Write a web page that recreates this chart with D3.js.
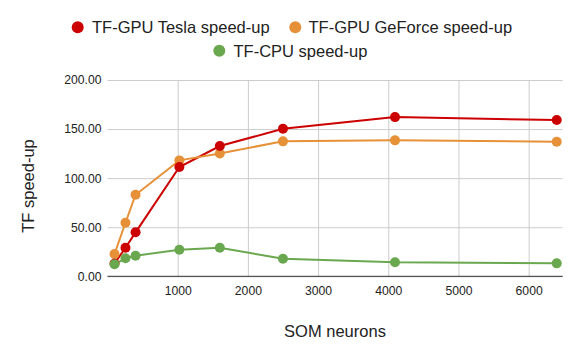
<!DOCTYPE html>
<html><head><meta charset="utf-8">
<script src="https://cdn.jsdelivr.net/npm/d3@7"></script>
<style>body{margin:0;background:#fff}svg{display:block;font-family:"Liberation Sans",Arial,sans-serif}</style>
</head><body><svg id="c" width="581" height="359"></svg>
<script>
const neurons = [100, 256, 400, 1024, 1600, 2500, 4096, 6400];
const teslaSpeedup = [13, 29.1, 44.8, 111.3, 132.7, 150.3, 162.2, 159.2];
const geforceSpeedup = [22.7, 54.6, 83.1, 118.1, 125.2, 137.5, 138.5, 137.1];
const cpuSpeedup = [12.2, 18.3, 21.0, 27.1, 29.1, 17.9, 14.3, 13.2];
const xTicks = [1000, 2000, 3000, 4000, 5000, 6000];
const yTicks = [0, 50, 100, 150, 200];
const seriesNames = ["TF-GPU Tesla speed-up", "TF-GPU GeForce speed-up", "TF-CPU speed-up"];
const colors = ["#cc0000", "#e69138", "#6aa84f"];

const svg = d3.select("#c");
const ff = "'Liberation Sans', Arial, sans-serif";
const x = d3.scaleLinear().domain([0, 6485]).range([107.5, 562.7]);
const y = d3.scaleLinear().domain([0, 200]).range([276.3, 80]);

const yAxis = d3.axisLeft(y).tickValues(yTicks).tickSize(-(x.range()[1]-x.range()[0])).tickPadding(6).tickFormat(d3.format(".2f"));
const gy = svg.append("g").attr("transform", `translate(${x.range()[0]},0)`).call(yAxis);
gy.select(".domain").remove();
gy.selectAll(".tick line").attr("stroke", "#cccccc");
gy.selectAll(".tick text").attr("font-size", 12.2).attr("fill", "#222").attr("font-family", ff);

const xAxis = d3.axisBottom(x).tickValues(xTicks).tickSize(-(y.range()[0]-y.range()[1])).tickPadding(10).tickFormat(d3.format("d"));
const gx = svg.append("g").attr("transform", `translate(0,${y.range()[0]})`).call(xAxis);
gx.select(".domain").remove();
gx.selectAll(".tick line").attr("stroke", "#cccccc");
gx.selectAll(".tick text").attr("font-size", 12.2).attr("fill", "#222").attr("font-family", ff);

svg.append("line").attr("x1", x.range()[0]).attr("x2", x.range()[1]).attr("y1", y(0)).attr("y2", y(0)).attr("stroke", "#333").attr("stroke-width", 1);

const all = [teslaSpeedup, geforceSpeedup, cpuSpeedup];
const line = d3.line().x((d,i)=>x(neurons[i])).y(d=>y(d));
[0, 1, 2].forEach(s => {
  svg.append("path").datum(all[s]).attr("d", line).attr("fill", "none").attr("stroke", colors[s]).attr("stroke-width", 2);
});
[1, 0, 2].forEach(s => {
  svg.append("g").selectAll("circle").data(all[s]).join("circle")
    .attr("cx", (d,i)=>x(neurons[i])).attr("cy", d=>y(d)).attr("r", 5).attr("fill", colors[s]);
});

const leg = [
  {i:0, cx:77.7, cy:27.3, tx:92, ty:33.3},
  {i:1, cx:295.3, cy:27.3, tx:308.5, ty:33.3},
  {i:2, cx:219.3, cy:50.7, tx:233.5, ty:56.5}
];
leg.forEach(l => {
  svg.append("circle").attr("cx", l.cx).attr("cy", l.cy).attr("r", 6).attr("fill", colors[l.i]);
  svg.append("text").attr("x", l.tx).attr("y", l.ty).attr("font-size", 16.5).attr("fill", "#222").text(seriesNames[l.i]);
});

svg.append("text").attr("x", 335).attr("y", 337.3).attr("text-anchor", "middle").attr("font-size", 16.5).attr("fill", "#222").text("SOM neurons");
svg.append("text").attr("transform", "translate(34,186) rotate(-90)").attr("text-anchor", "middle").attr("font-size", 16.5).attr("fill", "#222").text("TF speed-up");
</script></body></html>
